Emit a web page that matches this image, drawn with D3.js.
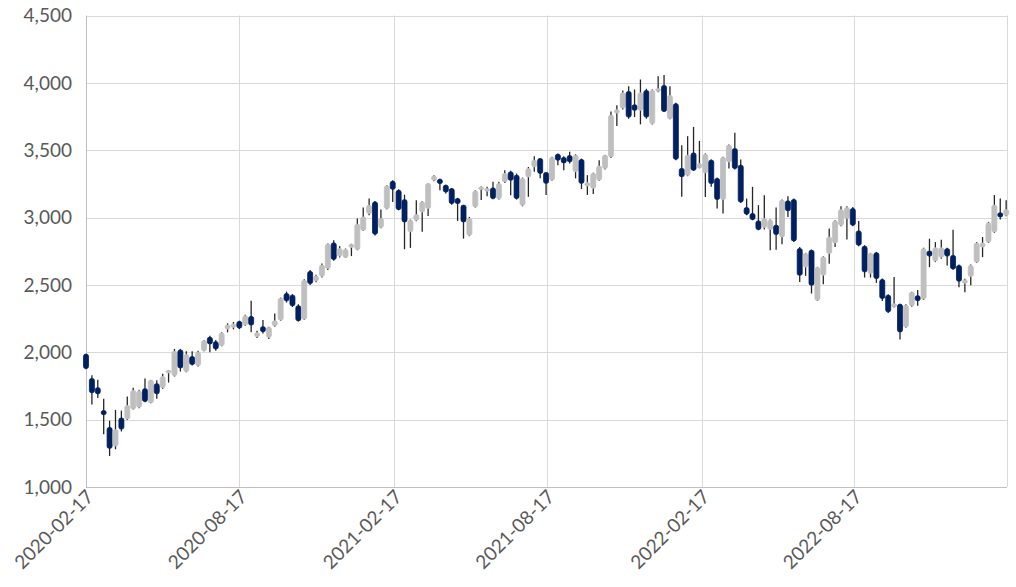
<!DOCTYPE html>
<html><head><meta charset="utf-8">
<script src="https://cdn.jsdelivr.net/npm/d3@7"></script>
<style>
body{margin:0;background:#fff;}
svg{display:block;}
text{font-family:Lato,"Liberation Sans",sans-serif;fill:#595959;}
</style>
</head><body>
<svg id="chart" width="1016" height="587"></svg>
<script>
const firstWeek = "2020-02-17";
const weekCount = 157;
const opens = [1985,1805,1737,1567,1442,1305,1512,1505,1580,1592,1730,1625,1767,1736,1850,1827,2017,1857,1968,1901,
2012,2111,2079,2049,2173,2185,2229,2204,2266,2116,2190,2111,2197,2239,2436,2424,2345,2246,2600,2530,
2565,2622,2812,2714,2704,2778,2763,2906,3030,3116,2926,3067,3269,3202,3133,2894,2980,3042,3067,3277,
3284,3240,3215,3141,3092,2869,3079,3210,3196,3220,3141,3265,3339,3314,3092,3302,3377,3438,3335,3278,
3470,3446,3460,3340,3431,3234,3217,3278,3365,3451,3776,3813,3936,3837,3796,3943,3697,3939,3980,3734,
3845,3365,3314,3480,3369,3332,3426,3290,3134,3413,3512,3389,3074,3030,2975,2926,2911,2943,2856,3124,
3134,2770,2634,2757,2386,2572,2733,2812,2943,2993,3067,2901,2787,2584,2738,2540,2423,2337,2356,2188,
2346,2420,2395,2751,2677,2706,2769,2719,2644,2512,2562,2669,2781,2818,2893,3035,3017];
const highs = [1990,1830,1797,1655,1492,1572,1567,1672,1737,1722,1805,1795,1792,1840,1868,2025,2025,2007,2007,2012,
2091,2123,2091,2148,2215,2225,2234,2278,2382,2160,2239,2190,2288,2406,2451,2431,2357,2542,2610,2575,
2659,2807,2832,2788,2770,2805,2993,3074,3141,3123,3059,3240,3277,3210,3170,2985,3128,3121,3252,3314,
3289,3244,3220,3146,3092,3005,3203,3230,3228,3265,3265,3351,3347,3327,3297,3376,3456,3438,3335,3451,
3475,3456,3488,3470,3438,3315,3333,3426,3463,3788,3833,3943,3975,3951,4025,3956,3951,4049,4059,3975,
3852,3537,3604,3673,3569,3475,3431,3297,3451,3542,3629,3431,3141,3228,3092,3166,2985,3074,3134,3158,
3141,2782,2738,2762,2634,2713,2918,2980,3084,3084,3079,2975,2795,2738,2745,2547,2431,2559,2361,2356,
2450,2463,2776,2843,2818,2836,2776,2910,2652,2545,2652,2818,2856,2968,3167,3142,3129];
const lows = [1875,1612,1660,1392,1230,1280,1412,1497,1575,1585,1630,1622,1655,1728,1775,1820,1857,1852,1901,1894,
2007,2000,2012,2044,2148,2170,2172,2197,2148,2106,2140,2099,2190,2234,2369,2337,2229,2239,2500,2520,
2555,2610,2679,2704,2700,2714,2758,2901,3017,2867,2921,3062,3116,3054,2765,2775,2973,2894,3012,3269,
3203,3178,3096,2975,2844,2862,3074,3130,3158,3136,3134,3257,3166,3134,3084,3154,3340,3291,3168,3273,
3389,3352,3401,3291,3212,3168,3175,3273,3357,3443,3680,3803,3734,3746,3692,3734,3690,3931,3783,3729,
3426,3155,3307,3347,3366,3153,3228,3067,3030,3364,3356,3109,3017,2980,2906,2911,2757,2762,2802,3005,
2819,2522,2567,2436,2381,2505,2658,2782,2936,2837,2936,2787,2555,2555,2515,2381,2292,2332,2094,2183,
2338,2346,2388,2632,2669,2694,2644,2612,2483,2445,2497,2662,2706,2811,2886,2985,3010];
const closes = [1880,1700,1692,1537,1287,1425,1430,1605,1717,1712,1635,1792,1692,1820,1862,2007,1884,1983,1909,2000,
2086,2062,2025,2143,2202,2210,2180,2271,2202,2145,2153,2185,2234,2401,2382,2345,2234,2534,2510,2566,
2647,2802,2689,2770,2763,2802,2951,3005,3091,2877,2993,3235,3210,3059,2968,2980,3022,3116,3252,3309,
3252,3190,3104,3104,2968,2993,3198,3225,3215,3141,3252,3327,3277,3141,3290,3364,3426,3328,3254,3446,
3426,3406,3414,3463,3254,3259,3328,3382,3463,3759,3800,3926,3746,3796,3926,3746,3943,3956,3788,3906,
3433,3303,3463,3351,3401,3468,3252,3134,3446,3537,3364,3116,3025,2985,2911,2993,2980,2874,3129,3050,
2827,2572,2733,2498,2629,2708,2856,2975,3059,3074,2943,2795,2597,2733,2547,2399,2300,2361,2151,2349,
2445,2383,2769,2714,2776,2776,2714,2619,2527,2537,2644,2811,2811,2960,3092,3005,3060];
const yTickValues = [1000,1500,2000,2500,3000,3500,4000,4500];
const xTickLabels = ["2020-02-17","2020-08-17","2021-02-17","2021-08-17","2022-02-17","2022-08-17"];
const axisEnd = "2023-02-14";

(function draw() {
const parse = d3.utcParse("%Y-%m-%d");
const start = parse(firstWeek);
const data = d3.range(weekCount).map(i => ({
  date: d3.utcDay.offset(start, 7 * i),
  o: opens[i], h: highs[i], l: lows[i], c: closes[i]
}));

const svg = d3.select("#chart");
const pL = 86, pR = 1007, pT = 15.5, pB = 487;
const x = d3.scaleUtc().domain([start, parse(axisEnd)]).range([pL, pR]);
const y = d3.scaleLinear().domain([1000, 4500]).range([pB, pT]);
const fmt = d3.format(",");

svg.append("g").selectAll("line").data(yTickValues.filter(v => v > 1000)).join("line")
  .attr("x1", pL).attr("x2", pR)
  .attr("y1", d => Math.round(y(d)) + 0.5).attr("y2", d => Math.round(y(d)) + 0.5)
  .attr("stroke", "#d9d9d9").attr("stroke-width", 1);
const xTickDates = xTickLabels.map(parse);
svg.append("g").selectAll("line").data(xTickDates.slice(1)).join("line")
  .attr("x1", d => Math.round(x(d)) + 0.5).attr("x2", d => Math.round(x(d)) + 0.5)
  .attr("y1", pT).attr("y2", pB)
  .attr("stroke", "#d9d9d9").attr("stroke-width", 1);
svg.append("line").attr("x1", pR + 0.5).attr("x2", pR + 0.5).attr("y1", pT).attr("y2", pB)
  .attr("stroke", "#d9d9d9");
svg.append("line").attr("x1", pL + 0.5).attr("x2", pL + 0.5).attr("y1", pT).attr("y2", pB)
  .attr("stroke", "#bfbfbf");
svg.append("line").attr("x1", pL).attr("x2", pR).attr("y1", pB + 0.5).attr("y2", pB + 0.5)
  .attr("stroke", "#bfbfbf");

svg.append("g").selectAll("text").data(yTickValues).join("text")
  .attr("x", 72).attr("y", d => y(d)).attr("dy", "0.36em")
  .attr("text-anchor", "end").style("font-size", "19px")
  .text(d => fmt(d));

svg.append("g").selectAll("text").data(xTickDates).join("text")
  .attr("transform", d => `translate(${x(d) + 4},${pB + 6}) rotate(-45)`)
  .attr("dy", "0.36em")
  .attr("text-anchor", "end").style("font-size", "19px")
  .text((d, i) => xTickLabels[i]);

const g = svg.append("g");
const bw = 5;
g.selectAll("line.wick").data(data).join("line").attr("class", "wick")
  .attr("x1", d => x(d.date)).attr("x2", d => x(d.date))
  .attr("y1", d => y(d.h)).attr("y2", d => y(d.l))
  .attr("stroke", "#262626").attr("stroke-width", 1.3);
const bodyH = d => Math.max(Math.abs(y(d.o) - y(d.c)), 2.5);
g.selectAll("rect.body").data(data).join("rect").attr("class", "body")
  .attr("x", d => x(d.date) - bw / 2)
  .attr("y", d => (y(d.o) + y(d.c)) / 2 - bodyH(d) / 2)
  .attr("width", bw)
  .attr("height", bodyH)
  .attr("rx", 2)
  .attr("fill", d => d.c < d.o ? "#002060" : "#bfbfbf")
  .attr("stroke", d => d.c < d.o ? "#002060" : "#bfbfbf")
  .attr("stroke-width", 0.8);
})();
</script>
</body></html>
